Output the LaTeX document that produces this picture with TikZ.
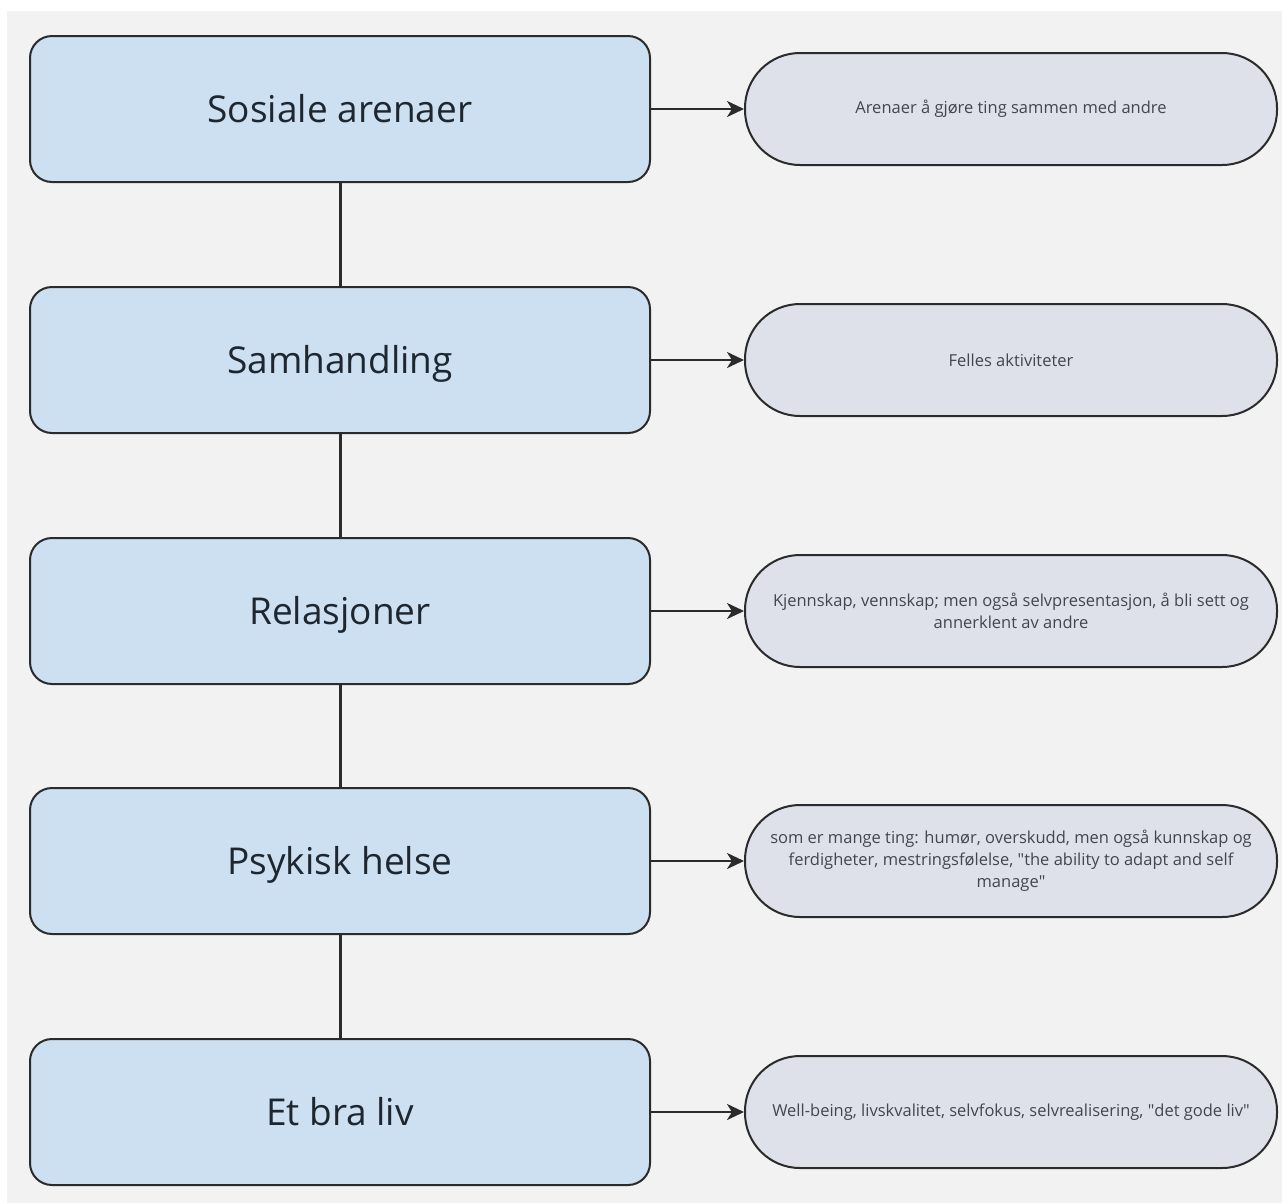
\documentclass[tikz,border=0pt]{standalone}
\usepackage{fontspec}
\setmainfont{Open Sans}
\usepackage{tikz}
\usetikzlibrary{arrows.meta}

\definecolor{bgcol}{HTML}{F2F2F2}
\definecolor{topiccol}{HTML}{CCE0F1}
\definecolor{notecol}{HTML}{DFE1EA}
\definecolor{linecol}{HTML}{2B2B2B}
\definecolor{textcol}{HTML}{1E2630}

\begin{document}
\begin{tikzpicture}[x=1pt,y=-1pt,line width=2.5pt]
    \tikzstyle{topic}=[rectangle,draw=linecol,fill=topiccol,line width=2pt,rounded corners=22pt,
        minimum width=620pt,minimum height=146pt,inner sep=0pt,text height=26pt,text depth=0pt,
        text=textcol,font=\fontsize{37}{44}\selectfont]
    \tikzstyle{note}=[rectangle,draw=linecol,fill=notecol,line width=2pt,rounded corners=55pt,
        minimum width=532pt,minimum height=112pt,inner sep=0pt,align=center,text=textcol!85!white,
        font=\fontsize{16.5}{22}\selectfont]
    \tikzstyle{link}=[draw=linecol,line width=3pt]
    \tikzstyle{pointer}=[draw=linecol,fill=linecol,line width=2.5pt,-{Stealth[length=17pt,width=16pt,inset=5pt]}]

    % Background
    \useasboundingbox (0,0) rectangle (1282,1203);
    \fill[white] (0,0) rectangle (1282,1203);
    \fill[bgcol] (7,11) rectangle (1282,1203);

    % Topics
    \node[topic] (0) at (340,109) {Sosiale arenaer};
    \node[topic] (1) at (340,360) {Samhandling};
    \node[topic] (2) at (340,611) {Relasjoner};
    \node[topic] (3) at (340,861) {Psykisk helse};
    \node[topic] (4) at (340,1112) {Et bra liv};

    % Notes
    \node[note] (n0) at (1011,109) {Arenaer å gjøre ting sammen med andre};
    \node[note] (n1) at (1011,360) {Felles aktiviteter};
    \node[note] (n2) at (1011,611) {Kjennskap, vennskap; men også selvpresentasjon, å bli sett og\\annerklent av andre};
    \node[note] (n3) at (1011,861) {som er mange ting: humør, overskudd, men også kunnskap og\\ferdigheter, mestringsfølelse, \textquotedbl the ability to adapt and self\\manage\textquotedbl};
    \node[note] (n4) at (1011,1112) {Well-being, livskvalitet, selvfokus, selvrealisering, \textquotedbl det gode liv\textquotedbl};

    % Edges
    \path[link]
        (0) edge (1)
        (1) edge (2)
        (2) edge (3)
        (3) edge (4)
        ;
    \foreach \i in {0,...,4}
        \draw[pointer] (\i) -- (n\i);
\end{tikzpicture}
\end{document}
